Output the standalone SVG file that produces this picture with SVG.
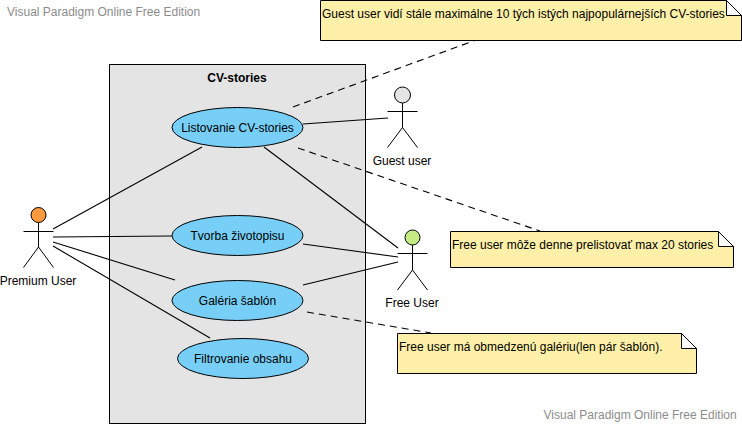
<svg xmlns="http://www.w3.org/2000/svg" width="742" height="424" viewBox="0 0 742 424">
<style>
text{font-family:"Liberation Sans",Arial,sans-serif;font-size:12px;fill:#000}
.wm{fill:#8c8c8c}
.c{text-anchor:middle}
.uc{fill:#77cff7;stroke:#000;stroke-width:1}
.a{fill:none;stroke:#000;stroke-width:1}
.h{stroke:#000;stroke-width:1}
.n{fill:#fff0a9;stroke:#000;stroke-width:1}
.f{fill:#fff;stroke:#000;stroke-width:1}
.l{fill:none;stroke:#000;stroke-width:1.1}
.d{fill:none;stroke:#000;stroke-width:1.1;stroke-dasharray:7 5}
</style>
<rect width="742" height="424" fill="#fff"/>
<text class="wm" x="7" y="16">Visual Paradigm Online Free Edition</text>
<text class="wm" x="543.500" y="419">Visual Paradigm Online Free Edition</text>
<g id="system">
<rect x="109.500" y="64.500" width="256" height="359" fill="#e4e4e4" stroke="#000"/>
<text class="c" x="237" y="82" font-weight="bold">CV-stories</text>
</g>
<g id="connectors">
<line class="l" x1="53" y1="229" x2="202" y2="147"/>
<line class="l" x1="53" y1="237" x2="172" y2="236"/>
<line class="l" x1="53" y1="242" x2="175" y2="280"/>
<line class="l" x1="53" y1="246" x2="210" y2="338"/>
<line class="l" x1="303" y1="124" x2="388" y2="118"/>
<line class="l" x1="264" y1="147" x2="398" y2="248"/>
<line class="l" x1="303" y1="244" x2="398" y2="257"/>
<line class="l" x1="303" y1="285" x2="398" y2="262"/>
<line class="d" x1="293" y1="107" x2="476" y2="40"/>
<line class="d" x1="298" y1="148" x2="540" y2="231"/>
<line class="d" x1="307" y1="312" x2="431" y2="333"/>
</g>
<g id="uc-listovanie"><ellipse class="uc" cx="237.500" cy="127.500" rx="65.500" ry="20"/><text class="c" x="237.500" y="131.500">Listovanie CV-stories</text></g>
<g id="uc-tvorba"><ellipse class="uc" cx="237.500" cy="235.500" rx="65.500" ry="20"/><text class="c" x="237.500" y="239.500">Tvorba životopisu</text></g>
<g id="uc-galeria"><ellipse class="uc" cx="237.500" cy="300.500" rx="65.500" ry="20"/><text class="c" x="237.500" y="304.500">Galéria šablón</text></g>
<g id="uc-filtrovanie"><ellipse class="uc" cx="243" cy="358.500" rx="65.500" ry="20"/><text class="c" x="243" y="362.500">Filtrovanie obsahu</text></g>
<g id="actor-premium">
<circle class="h" cx="38.500" cy="215" r="7.500" fill="#ff9a3f"/>
<path class="a" d="M38.500 222.500V247M23.500 231.500H53.500M23.500 267.500L38.500 247L53.500 267.500"/>
<text class="c" x="38" y="285">Premium User</text>
</g>
<g id="actor-guest">
<circle class="h" cx="402.500" cy="95" r="8" fill="#e4e4e4"/>
<path class="a" d="M402.500 103V127.500M387.500 111.500H417.500M387.500 147.500L402.500 127.500L417.500 147.500"/>
<text class="c" x="402" y="165">Guest user</text>
</g>
<g id="actor-free">
<circle class="h" cx="412.500" cy="237.500" r="7.500" fill="#c5ec84"/>
<path class="a" d="M412.500 245V270M397.500 253.500H427.500M397.500 290L412.500 270L427.500 290"/>
<text class="c" x="412" y="307">Free User</text>
</g>
<g id="note-guest">
<path class="n" d="M320.500 0.500H726.500L741.500 15.500V40.500H320.500Z"/>
<path class="f" d="M726.500 0.500V15.500H741.500Z"/>
<text x="322" y="18">Guest user vidí stále maximálne 10 tých istých najpopulárnejších CV-stories</text>
</g>
<g id="note-free">
<path class="n" d="M450.500 231.500H718.500L733.500 246.500V267.500H450.500Z"/>
<path class="f" d="M718.500 231.500V246.500H733.500Z"/>
<text x="452" y="249">Free user môže denne prelistovať max 20 stories</text>
</g>
<g id="note-galeria">
<path class="n" d="M397.500 333.500H681.500L696.500 348.500V373.500H397.500Z"/>
<path class="f" d="M681.500 333.500V348.500H696.500Z"/>
<text x="399" y="351">Free user má obmedzenú galériu(len pár šablón).</text>
</g>
</svg>
